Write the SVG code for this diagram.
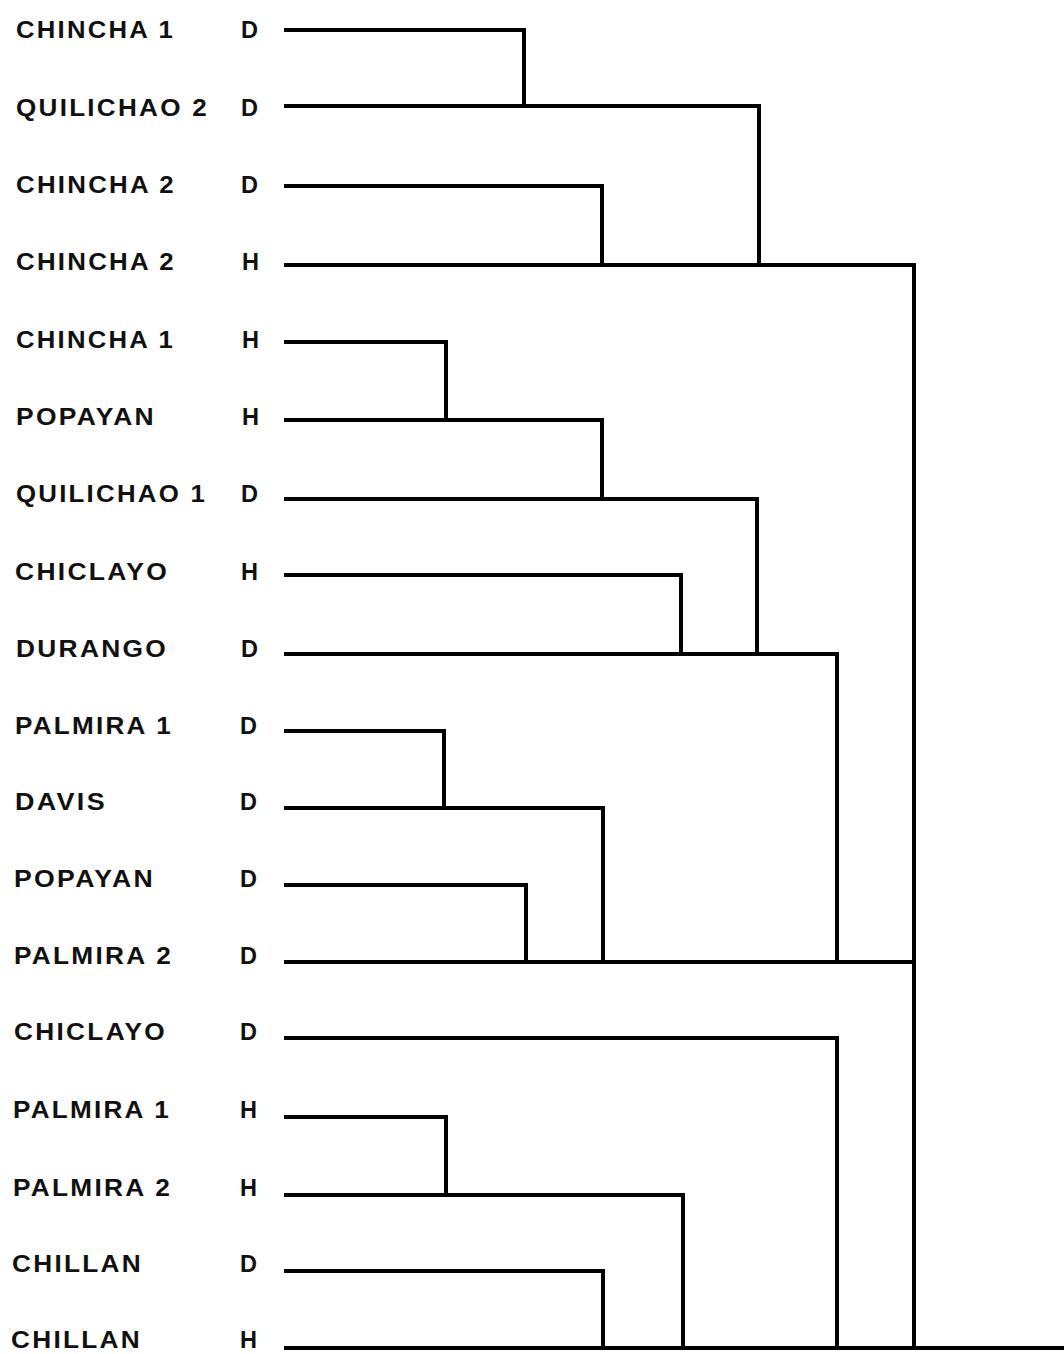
<svg xmlns="http://www.w3.org/2000/svg" width="1064" height="1354" viewBox="0 0 1064 1354">
<style>
.lbl{font-family:"Liberation Sans",Arial,sans-serif;font-weight:bold;font-size:23px;letter-spacing:2px;fill:#111}
.ltr{font-family:"Liberation Sans",Arial,sans-serif;font-weight:bold;font-size:23px;fill:#111}
.e{fill:none;stroke:#000;stroke-width:4;stroke-linecap:square;stroke-linejoin:miter}
</style>
<rect width="1064" height="1354" fill="#fff"/>
<g id="n1"><text class="lbl" x="16" y="38" textLength="159" lengthAdjust="spacingAndGlyphs">CHINCHA 1</text><text class="ltr" x="241" y="38" textLength="17" lengthAdjust="spacingAndGlyphs">D</text></g>
<g id="n2"><text class="lbl" x="16" y="116" textLength="193" lengthAdjust="spacingAndGlyphs">QUILICHAO 2</text><text class="ltr" x="241" y="116" textLength="17" lengthAdjust="spacingAndGlyphs">D</text></g>
<g id="n3"><text class="lbl" x="16" y="193" textLength="160" lengthAdjust="spacingAndGlyphs">CHINCHA 2</text><text class="ltr" x="241" y="193" textLength="17" lengthAdjust="spacingAndGlyphs">D</text></g>
<g id="n4"><text class="lbl" x="16" y="270" textLength="160" lengthAdjust="spacingAndGlyphs">CHINCHA 2</text><text class="ltr" x="242" y="270" textLength="17" lengthAdjust="spacingAndGlyphs">H</text></g>
<g id="n5"><text class="lbl" x="16" y="348" textLength="159" lengthAdjust="spacingAndGlyphs">CHINCHA 1</text><text class="ltr" x="242" y="348" textLength="17" lengthAdjust="spacingAndGlyphs">H</text></g>
<g id="n6"><text class="lbl" x="16" y="425" textLength="140" lengthAdjust="spacingAndGlyphs">POPAYAN</text><text class="ltr" x="242" y="425" textLength="17" lengthAdjust="spacingAndGlyphs">H</text></g>
<g id="n7"><text class="lbl" x="16" y="502" textLength="191" lengthAdjust="spacingAndGlyphs">QUILICHAO 1</text><text class="ltr" x="241" y="502" textLength="17" lengthAdjust="spacingAndGlyphs">D</text></g>
<g id="n8"><text class="lbl" x="15" y="580" textLength="154" lengthAdjust="spacingAndGlyphs">CHICLAYO</text><text class="ltr" x="241" y="580" textLength="17" lengthAdjust="spacingAndGlyphs">H</text></g>
<g id="n9"><text class="lbl" x="16" y="657" textLength="152" lengthAdjust="spacingAndGlyphs">DURANGO</text><text class="ltr" x="241" y="657" textLength="17" lengthAdjust="spacingAndGlyphs">D</text></g>
<g id="n10"><text class="lbl" x="15" y="734" textLength="158" lengthAdjust="spacingAndGlyphs">PALMIRA 1</text><text class="ltr" x="240" y="734" textLength="17" lengthAdjust="spacingAndGlyphs">D</text></g>
<g id="n11"><text class="lbl" x="15" y="810" textLength="92" lengthAdjust="spacingAndGlyphs">DAVIS</text><text class="ltr" x="240" y="810" textLength="17" lengthAdjust="spacingAndGlyphs">D</text></g>
<g id="n12"><text class="lbl" x="14" y="887" textLength="141" lengthAdjust="spacingAndGlyphs">POPAYAN</text><text class="ltr" x="240" y="887" textLength="17" lengthAdjust="spacingAndGlyphs">D</text></g>
<g id="n13"><text class="lbl" x="14" y="964" textLength="159" lengthAdjust="spacingAndGlyphs">PALMIRA 2</text><text class="ltr" x="240" y="964" textLength="17" lengthAdjust="spacingAndGlyphs">D</text></g>
<g id="n14"><text class="lbl" x="14" y="1040" textLength="153" lengthAdjust="spacingAndGlyphs">CHICLAYO</text><text class="ltr" x="240" y="1040" textLength="17" lengthAdjust="spacingAndGlyphs">D</text></g>
<g id="n15"><text class="lbl" x="13" y="1118" textLength="158" lengthAdjust="spacingAndGlyphs">PALMIRA 1</text><text class="ltr" x="240" y="1118" textLength="17" lengthAdjust="spacingAndGlyphs">H</text></g>
<g id="n16"><text class="lbl" x="13" y="1196" textLength="159" lengthAdjust="spacingAndGlyphs">PALMIRA 2</text><text class="ltr" x="240" y="1196" textLength="17" lengthAdjust="spacingAndGlyphs">H</text></g>
<g id="n17"><text class="lbl" x="12" y="1272" textLength="131" lengthAdjust="spacingAndGlyphs">CHILLAN</text><text class="ltr" x="240" y="1272" textLength="17" lengthAdjust="spacingAndGlyphs">D</text></g>
<g id="n18"><text class="lbl" x="11" y="1348" textLength="131" lengthAdjust="spacingAndGlyphs">CHILLAN</text><text class="ltr" x="240" y="1348" textLength="17" lengthAdjust="spacingAndGlyphs">H</text></g>
<g id="connectors">
<path class="e" d="M286 30H524V106"/>
<path class="e" d="M286 106H759V265"/>
<path class="e" d="M286 186H602V265"/>
<path class="e" d="M286 265H914V962"/>
<path class="e" d="M286 342H446V420"/>
<path class="e" d="M286 420H602V499"/>
<path class="e" d="M286 499H757V654"/>
<path class="e" d="M286 575H681V654"/>
<path class="e" d="M286 654H837V962"/>
<path class="e" d="M286 731H444V808"/>
<path class="e" d="M286 808H603V962"/>
<path class="e" d="M286 885H526V962"/>
<path class="e" d="M286 962H914V1348"/>
<path class="e" d="M286 1038H837V1348"/>
<path class="e" d="M286 1117H446V1195"/>
<path class="e" d="M286 1195H683V1348"/>
<path class="e" d="M286 1271H603V1348"/>
<path class="e" d="M286 1348H1064"/>
</g>
</svg>
